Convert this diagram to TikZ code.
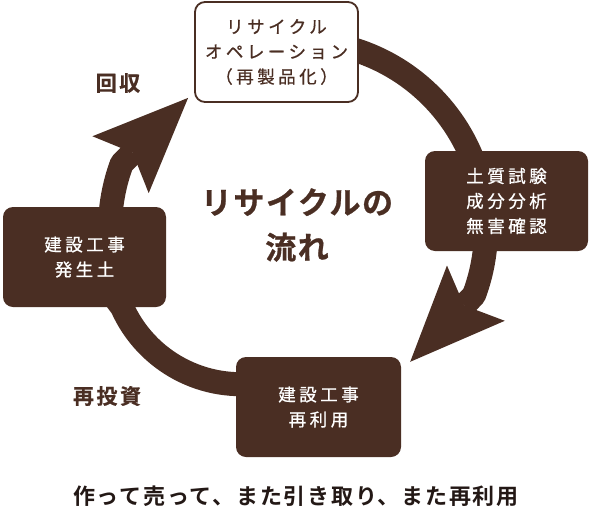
\documentclass[tikz,border=0pt]{standalone}
\usepackage{fontspec}
\usepackage{tikz}
\usetikzlibrary{arrows.meta,backgrounds}
\newfontfamily\jp[LetterSpace=20, FakeBold=0.7]{Noto Sans CJK JP}
\newfontfamily\jplbl[LetterSpace=12, FakeBold=0.6]{Noto Sans CJK JP Bold}
\newfontfamily\jpttl[LetterSpace=5, FakeBold=0.8]{Noto Sans CJK JP Bold}
\newfontfamily\jpcap[LetterSpace=8]{Noto Sans CJK JP Bold}
\definecolor{brn}{RGB}{74,46,35}
\definecolor{ink}{RGB}{35,24,21}

\begin{document}
\begin{tikzpicture}[x=1pt, y=1pt,
  box/.style={rounded corners=10pt, minimum width=163pt, minimum height=100pt,
    inner sep=0pt, align=center, font=\jp\fontsize{17.5}{25}\selectfont},
  darkbox/.style={box, fill=brn, text=white},
  lightbox/.style={box, draw=brn, line width=1.8pt, fill=white, text=brn},
  ring/.style={draw=brn, line width=24pt, line join=round},
  bigtip/.style={-{Stealth[length=95pt, width=80pt, inset=17pt, line width=0pt]}},
  lbl/.style={text=brn, font=\jplbl\fontsize{21}{25}\selectfont}]
\useasboundingbox (0,0) rectangle (590,-512);
% die vier Stationen
\node[lightbox] (top) at (276.5,-52) {リサイクル\\オペレーション\\（再製品化）};
\node[darkbox] (right) at (506.5,-201) {土質試験\\成分分析\\無害確認};
\node[darkbox, minimum width=165pt] (bottom) at (318.5,-407) {建設工事\\再利用};
\node[darkbox] (left) at (84.5,-257) {建設工事\\発生土};
% Mitte und Beschriftungen
\node[text=brn, align=center, font=\jpttl\fontsize{31}{45}\selectfont] (title) at (297,-225) {リサイクルの\\流れ};
\node[lbl] (collect) at (118,-83) {回収};
\node[lbl] (reinvest) at (107,-396) {再投資};
\node[text=ink, font=\jpcap\fontsize{22}{26}\selectfont] (caption) at (296,-496) {作って売って、また引き取り、また再利用};
% Kreislauf (hinter den Kaesten)
\coordinate (ctr) at (298,-229);
\coordinate (ctrlow) at (240.8,-254.2);
\coordinate (tipL) at ([shift={(-6,5)}]top.south west);
\coordinate (tipR) at ([shift={(9,-5)}]bottom.north east);
\begin{scope}[on background layer]
  \draw[ring] (top.center) -- ([shift={(105:188)}]ctr) arc[start angle=105, end angle=10, radius=188] -- (right.center);
  \draw[ring, bigtip] (right.center) -- ([shift={(10:188)}]ctr) arc[start angle=10, end angle=-20.6, radius=188] -- (tipR);
  \draw[ring] (bottom.center) -- ([shift={(-80:130)}]ctrlow) arc[start angle=-80, end angle=-156, radius=130] -- (left.center);
  \draw[ring, bigtip] (left.center) -- ([shift={(-160:188)}]ctr) arc[start angle=-160, end angle=-200.4, radius=188] -- (tipL);
\end{scope}
\end{tikzpicture}
\end{document}
